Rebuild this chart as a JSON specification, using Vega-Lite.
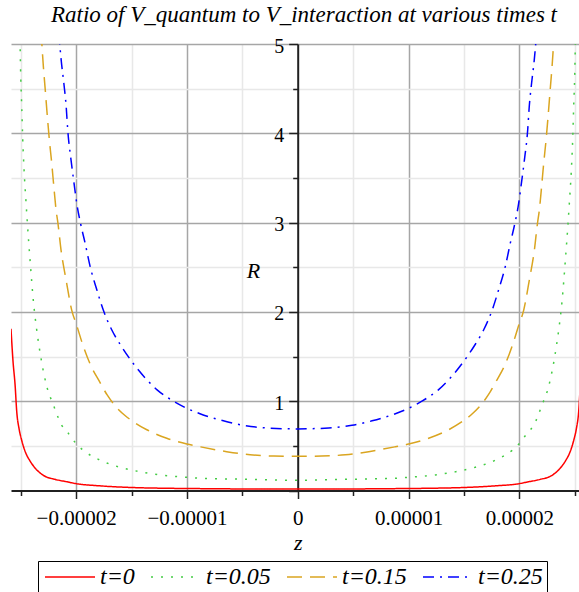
{
  "$schema": "https://vega.github.io/schema/vega-lite/v6.json",
  "width": 568,
  "height": 446.5,
  "autosize": "none",
  "padding": {"left": 11, "top": 44, "right": 0, "bottom": 101.5},
  "background": "white",
  "title": {"text": "Ratio of V_quantum to V_interaction at various times t", "font": "Liberation Serif", "fontStyle": "italic", "fontWeight": "normal", "fontSize": 23, "color": "black", "frame": "group", "anchor": "middle", "offset": 9, "dx": 9},
  "data": {"values": [
    {"t":"t=0","z":-2.588e-5,"R":1.81},{"t":"t=0","z":-2.570e-5,"R":1.45},{"t":"t=0","z":-2.551e-5,"R":1.18},{"t":"t=0","z":-2.536e-5,"R":0.88},{"t":"t=0","z":-2.515e-5,"R":0.69},{"t":"t=0","z":-2.491e-5,"R":0.56},{"t":"t=0","z":-2.461e-5,"R":0.44},{"t":"t=0","z":-2.416e-5,"R":0.33},{"t":"t=0","z":-2.362e-5,"R":0.24},{"t":"t=0","z":-2.296e-5,"R":0.17},{"t":"t=0","z":-2.19e-5,"R":0.125},{"t":"t=0","z":-2.085e-5,"R":0.098},{"t":"t=0","z":-1.995e-5,"R":0.076},{"t":"t=0","z":-1.784e-5,"R":0.052},{"t":"t=0","z":-1.486e-5,"R":0.033},{"t":"t=0","z":-1.182e-5,"R":0.025},{"t":"t=0","z":-0.882e-5,"R":0.021},{"t":"t=0","z":-0.43e-5,"R":0.017},{"t":"t=0","z":0,"R":0.016},
    {"t":"t=0","z":0.43e-5,"R":0.017},{"t":"t=0","z":0.882e-5,"R":0.021},{"t":"t=0","z":1.182e-5,"R":0.025},{"t":"t=0","z":1.486e-5,"R":0.033},{"t":"t=0","z":1.784e-5,"R":0.052},{"t":"t=0","z":1.995e-5,"R":0.076},{"t":"t=0","z":2.085e-5,"R":0.098},{"t":"t=0","z":2.19e-5,"R":0.125},{"t":"t=0","z":2.296e-5,"R":0.17},{"t":"t=0","z":2.362e-5,"R":0.24},{"t":"t=0","z":2.416e-5,"R":0.33},{"t":"t=0","z":2.461e-5,"R":0.44},{"t":"t=0","z":2.491e-5,"R":0.56},{"t":"t=0","z":2.515e-5,"R":0.69},{"t":"t=0","z":2.536e-5,"R":0.88},{"t":"t=0","z":2.551e-5,"R":1.18},{"t":"t=0","z":2.570e-5,"R":1.45},{"t":"t=0","z":2.588e-5,"R":1.81},
    {"t":"t=0.05","z":-2.515e-5,"R":5.5},{"t":"t=0.05","z":-2.506e-5,"R":5.0},{"t":"t=0.05","z":-2.5e-5,"R":4.63},{"t":"t=0.05","z":-2.491e-5,"R":4.30},{"t":"t=0.05","z":-2.482e-5,"R":3.93},{"t":"t=0.05","z":-2.470e-5,"R":3.59},{"t":"t=0.05","z":-2.452e-5,"R":3.22},{"t":"t=0.05","z":-2.440e-5,"R":2.99},{"t":"t=0.05","z":-2.416e-5,"R":2.58},{"t":"t=0.05","z":-2.386e-5,"R":2.12},{"t":"t=0.05","z":-2.356e-5,"R":1.80},{"t":"t=0.05","z":-2.320e-5,"R":1.50},{"t":"t=0.05","z":-2.266e-5,"R":1.17},{"t":"t=0.05","z":-2.206e-5,"R":0.96},{"t":"t=0.05","z":-2.130e-5,"R":0.73},{"t":"t=0.05","z":-2.070e-5,"R":0.64},{"t":"t=0.05","z":-2.010e-5,"R":0.54},{"t":"t=0.05","z":-1.935e-5,"R":0.45},{"t":"t=0.05","z":-1.784e-5,"R":0.34},{"t":"t=0.05","z":-1.603e-5,"R":0.26},{"t":"t=0.05","z":-1.423e-5,"R":0.21},{"t":"t=0.05","z":-1.242e-5,"R":0.174},{"t":"t=0.05","z":-1.001e-5,"R":0.148},{"t":"t=0.05","z":-0.882e-5,"R":0.137},{"t":"t=0.05","z":-0.43e-5,"R":0.125},{"t":"t=0.05","z":0,"R":0.114},
    {"t":"t=0.05","z":0.43e-5,"R":0.125},{"t":"t=0.05","z":0.882e-5,"R":0.137},{"t":"t=0.05","z":1.001e-5,"R":0.148},{"t":"t=0.05","z":1.242e-5,"R":0.174},{"t":"t=0.05","z":1.423e-5,"R":0.21},{"t":"t=0.05","z":1.603e-5,"R":0.26},{"t":"t=0.05","z":1.784e-5,"R":0.34},{"t":"t=0.05","z":1.935e-5,"R":0.45},{"t":"t=0.05","z":2.010e-5,"R":0.54},{"t":"t=0.05","z":2.070e-5,"R":0.64},{"t":"t=0.05","z":2.130e-5,"R":0.73},{"t":"t=0.05","z":2.206e-5,"R":0.96},{"t":"t=0.05","z":2.266e-5,"R":1.17},{"t":"t=0.05","z":2.320e-5,"R":1.50},{"t":"t=0.05","z":2.356e-5,"R":1.80},{"t":"t=0.05","z":2.386e-5,"R":2.12},{"t":"t=0.05","z":2.416e-5,"R":2.58},{"t":"t=0.05","z":2.440e-5,"R":2.99},{"t":"t=0.05","z":2.452e-5,"R":3.22},{"t":"t=0.05","z":2.470e-5,"R":3.59},{"t":"t=0.05","z":2.482e-5,"R":3.93},{"t":"t=0.05","z":2.491e-5,"R":4.30},{"t":"t=0.05","z":2.5e-5,"R":4.63},{"t":"t=0.05","z":2.506e-5,"R":5.0},{"t":"t=0.05","z":2.515e-5,"R":5.5},
    {"t":"t=0.15","z":-2.33e-5,"R":5.4},{"t":"t=0.15","z":-2.310e-5,"R":5.01},{"t":"t=0.15","z":-2.296e-5,"R":4.75},{"t":"t=0.15","z":-2.281e-5,"R":4.52},{"t":"t=0.15","z":-2.260e-5,"R":4.19},{"t":"t=0.15","z":-2.242e-5,"R":3.93},{"t":"t=0.15","z":-2.220e-5,"R":3.66},{"t":"t=0.15","z":-2.199e-5,"R":3.37},{"t":"t=0.15","z":-2.181e-5,"R":3.14},{"t":"t=0.15","z":-2.164e-5,"R":2.99},{"t":"t=0.15","z":-2.136e-5,"R":2.69},{"t":"t=0.15","z":-2.091e-5,"R":2.36},{"t":"t=0.15","z":-2.040e-5,"R":2.02},{"t":"t=0.15","z":-1.995e-5,"R":1.85},{"t":"t=0.15","z":-1.950e-5,"R":1.67},{"t":"t=0.15","z":-1.875e-5,"R":1.42},{"t":"t=0.15","z":-1.785e-5,"R":1.21},{"t":"t=0.15","z":-1.720e-5,"R":1.07},{"t":"t=0.15","z":-1.649e-5,"R":0.95},{"t":"t=0.15","z":-1.559e-5,"R":0.84},{"t":"t=0.15","z":-1.483e-5,"R":0.77},{"t":"t=0.15","z":-1.362e-5,"R":0.68},{"t":"t=0.15","z":-1.182e-5,"R":0.585},{"t":"t=0.15","z":-1.001e-5,"R":0.52},{"t":"t=0.15","z":-0.882e-5,"R":0.49},{"t":"t=0.15","z":-0.641e-5,"R":0.435},{"t":"t=0.15","z":-0.430e-5,"R":0.40},{"t":"t=0.15","z":-0.215e-5,"R":0.386},{"t":"t=0.15","z":0,"R":0.383},
    {"t":"t=0.15","z":0.215e-5,"R":0.386},{"t":"t=0.15","z":0.430e-5,"R":0.40},{"t":"t=0.15","z":0.641e-5,"R":0.435},{"t":"t=0.15","z":0.882e-5,"R":0.49},{"t":"t=0.15","z":1.001e-5,"R":0.52},{"t":"t=0.15","z":1.182e-5,"R":0.585},{"t":"t=0.15","z":1.362e-5,"R":0.68},{"t":"t=0.15","z":1.483e-5,"R":0.77},{"t":"t=0.15","z":1.559e-5,"R":0.84},{"t":"t=0.15","z":1.649e-5,"R":0.95},{"t":"t=0.15","z":1.720e-5,"R":1.07},{"t":"t=0.15","z":1.785e-5,"R":1.21},{"t":"t=0.15","z":1.875e-5,"R":1.42},{"t":"t=0.15","z":1.950e-5,"R":1.67},{"t":"t=0.15","z":1.995e-5,"R":1.85},{"t":"t=0.15","z":2.040e-5,"R":2.02},{"t":"t=0.15","z":2.091e-5,"R":2.36},{"t":"t=0.15","z":2.136e-5,"R":2.69},{"t":"t=0.15","z":2.164e-5,"R":2.99},{"t":"t=0.15","z":2.181e-5,"R":3.14},{"t":"t=0.15","z":2.199e-5,"R":3.37},{"t":"t=0.15","z":2.220e-5,"R":3.66},{"t":"t=0.15","z":2.242e-5,"R":3.93},{"t":"t=0.15","z":2.260e-5,"R":4.19},{"t":"t=0.15","z":2.281e-5,"R":4.52},{"t":"t=0.15","z":2.296e-5,"R":4.75},{"t":"t=0.15","z":2.310e-5,"R":5.01},{"t":"t=0.15","z":2.33e-5,"R":5.4},
    {"t":"t=0.25","z":-2.17e-5,"R":5.4},{"t":"t=0.25","z":-2.150e-5,"R":5.03},{"t":"t=0.25","z":-2.135e-5,"R":4.82},{"t":"t=0.25","z":-2.111e-5,"R":4.56},{"t":"t=0.25","z":-2.090e-5,"R":4.30},{"t":"t=0.25","z":-2.076e-5,"R":4.04},{"t":"t=0.25","z":-2.046e-5,"R":3.70},{"t":"t=0.25","z":-2.019e-5,"R":3.44},{"t":"t=0.25","z":-1.995e-5,"R":3.22},{"t":"t=0.25","z":-1.960e-5,"R":2.99},{"t":"t=0.25","z":-1.919e-5,"R":2.77},{"t":"t=0.25","z":-1.874e-5,"R":2.51},{"t":"t=0.25","z":-1.814e-5,"R":2.25},{"t":"t=0.25","z":-1.755e-5,"R":2.02},{"t":"t=0.25","z":-1.679e-5,"R":1.80},{"t":"t=0.25","z":-1.589e-5,"R":1.61},{"t":"t=0.25","z":-1.483e-5,"R":1.42},{"t":"t=0.25","z":-1.362e-5,"R":1.24},{"t":"t=0.25","z":-1.272e-5,"R":1.13},{"t":"t=0.25","z":-1.121e-5,"R":1.0},{"t":"t=0.25","z":-1.001e-5,"R":0.92},{"t":"t=0.25","z":-0.882e-5,"R":0.86},{"t":"t=0.25","z":-0.671e-5,"R":0.78},{"t":"t=0.25","z":-0.490e-5,"R":0.73},{"t":"t=0.25","z":-0.280e-5,"R":0.70},{"t":"t=0.25","z":0,"R":0.69},
    {"t":"t=0.25","z":0.280e-5,"R":0.70},{"t":"t=0.25","z":0.490e-5,"R":0.73},{"t":"t=0.25","z":0.671e-5,"R":0.78},{"t":"t=0.25","z":0.882e-5,"R":0.86},{"t":"t=0.25","z":1.001e-5,"R":0.92},{"t":"t=0.25","z":1.121e-5,"R":1.0},{"t":"t=0.25","z":1.272e-5,"R":1.13},{"t":"t=0.25","z":1.362e-5,"R":1.24},{"t":"t=0.25","z":1.483e-5,"R":1.42},{"t":"t=0.25","z":1.589e-5,"R":1.61},{"t":"t=0.25","z":1.679e-5,"R":1.80},{"t":"t=0.25","z":1.755e-5,"R":2.02},{"t":"t=0.25","z":1.814e-5,"R":2.25},{"t":"t=0.25","z":1.874e-5,"R":2.51},{"t":"t=0.25","z":1.919e-5,"R":2.77},{"t":"t=0.25","z":1.960e-5,"R":2.99},{"t":"t=0.25","z":1.995e-5,"R":3.22},{"t":"t=0.25","z":2.019e-5,"R":3.44},{"t":"t=0.25","z":2.046e-5,"R":3.70},{"t":"t=0.25","z":2.076e-5,"R":4.04},{"t":"t=0.25","z":2.090e-5,"R":4.30},{"t":"t=0.25","z":2.111e-5,"R":4.56},{"t":"t=0.25","z":2.135e-5,"R":4.82},{"t":"t=0.25","z":2.150e-5,"R":5.03},{"t":"t=0.25","z":2.17e-5,"R":5.4}
  ]},
  "mark": {"type": "line", "strokeWidth": 1.5, "clip": true, "interpolate": "monotone"},
  "encoding": {
    "x": {
      "field": "z", "type": "quantitative",
      "scale": {"domain": [-2.588e-5, 2.539e-5], "nice": false, "zero": false},
      "axis": {
        "values": [-2.5e-5, -2e-5, -1.5e-5, -1e-5, -0.5e-5, 0, 0.5e-5, 1e-5, 1.5e-5, 2e-5, 2.5e-5],
        "title": "z", "titleFont": "Liberation Serif", "titleFontStyle": "italic", "titleFontWeight": "normal", "titleFontSize": 22, "titleColor": "black",
        "titleX": 286.7, "titleY": 52, "titleAlign": "center", "titleBaseline": "middle",
        "labelExpr": "abs(round(datum.value*1e6)) % 10 == 0 ? (datum.value == 0 ? '0' : (datum.value < 0 ? '\u2212' : '') + format(abs(datum.value), '.5f')) : ''",
        "labelFont": "Liberation Serif", "labelFontSize": 21, "labelColor": "black", "labelPadding": 9, "labelBaseline": "top", "labelOverlap": false, "labelBound": false, "labelFlush": false,
        "domainColor": "#202020", "domainWidth": 2,
        "tickColor": "#202020", "tickWidth": 1.5,
        "tickSize": {"condition": {"test": "abs(round(datum.value*1e6)) % 10 == 0", "value": 8}, "value": 5},
        "grid": true,
        "gridColor": {"condition": {"test": "abs(round(datum.value*1e6)) % 10 == 0", "value": "#a6a6a6"}, "value": "#e8e8e8"},
        "gridOpacity": {"condition": {"test": "datum.value == 0", "value": 0}, "value": 1},
        "gridWidth": 1.5
      }
    },
    "y": {
      "field": "R", "type": "quantitative",
      "scale": {"domain": [0, 5], "nice": false},
      "axis": {
        "orient": "left", "offset": -286.7,
        "values": [0, 0.5, 1, 1.5, 2, 2.5, 3, 3.5, 4, 4.5, 5],
        "title": "R", "titleFont": "Liberation Serif", "titleFontStyle": "italic", "titleFontWeight": "normal", "titleFontSize": 22, "titleColor": "black",
        "titleAngle": 0, "titleX": -44.7, "titleY": 226, "titleAlign": "center", "titleBaseline": "middle",
        "labelExpr": "datum.value % 1 == 0 && datum.value > 0 ? datum.value : ''",
        "labelFont": "Liberation Serif", "labelFontSize": 20, "labelColor": "black", "labelPadding": 5, "labelBaseline": "middle", "labelOffset": 2, "labelFlush": true, "labelFlushOffset": 0, "labelOverlap": false, "labelBound": false,
        "domainColor": "#202020", "domainWidth": 2,
        "tickColor": "#202020", "tickWidth": 1.5,
        "tickSize": {"condition": {"test": "datum.value % 1 == 0", "value": 9}, "value": 5},
        "grid": true,
        "gridColor": {"condition": {"test": "datum.value % 1 == 0", "value": "#a6a6a6"}, "value": "#e8e8e8"},
        "gridOpacity": {"condition": {"test": "datum.value == 0", "value": 0}, "value": 1},
        "gridWidth": 1.5
      }
    },
    "color": {
      "field": "t", "type": "nominal",
      "scale": {"domain": ["t=0", "t=0.05", "t=0.15", "t=0.25"], "range": ["#ff0000", "#44cc44", "#daa520", "#0000ff"]},
      "legend": {"title": null, "orient": "none", "legendX": 27, "legendY": 517, "direction": "horizontal", "symbolType": "M-5,0H5", "symbolSize": 100, "symbolOffset": 16, "symbolStrokeWidth": 1.5, "labelFont": "Liberation Serif", "labelFontStyle": "italic", "labelFontSize": 24, "labelColor": "black", "labelOffset": 18, "columnPadding": 13, "strokeColor": "black", "padding": 4, "labelLimit": 300}
    },
    "strokeDash": {
      "field": "t", "type": "nominal",
      "scale": {"domain": ["t=0", "t=0.05", "t=0.15", "t=0.25"], "range": [[1, 0], [2, 8], [15, 8], [11, 6, 2, 6]]},
      "legend": {"title": null, "orient": "none", "legendX": 27, "legendY": 517, "direction": "horizontal", "symbolType": "M-5,0H5", "symbolSize": 100, "symbolOffset": 16, "symbolStrokeWidth": 1.5, "labelFont": "Liberation Serif", "labelFontStyle": "italic", "labelFontSize": 24, "labelColor": "black", "labelOffset": 18, "columnPadding": 13, "strokeColor": "black", "padding": 4, "labelLimit": 300}
    }
  },
  "config": {"view": {"stroke": null}}
}
